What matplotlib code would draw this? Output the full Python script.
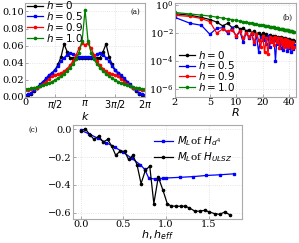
import numpy as np
import matplotlib
matplotlib.use("Agg")
import matplotlib.pyplot as plt
from matplotlib.ticker import FixedLocator, NullLocator, LogFormatterMathtext

# panel (a): occupation vs k, k = j*pi/20, j = 0..40
k_vals = np.arange(41) * np.pi / 20
nk_h0 = [0.001, 0.002, 0.004, 0.007, 0.011, 0.014, 0.018, 0.021, 0.025, 0.028,
         0.032, 0.038, 0.047, 0.062, 0.053, 0.046, 0.045, 0.045, 0.045, 0.045,
         0.045,
         0.045, 0.045, 0.045, 0.045, 0.046, 0.053, 0.062, 0.047, 0.038, 0.032,
         0.028, 0.025, 0.021, 0.018, 0.014, 0.011, 0.007, 0.004, 0.002, 0.001]
nk_h05 = [0.002, 0.003, 0.005, 0.008, 0.011, 0.015, 0.018, 0.022, 0.026, 0.028,
          0.031, 0.036, 0.042, 0.046, 0.049, 0.052, 0.050, 0.048, 0.047, 0.047,
          0.047,
          0.047, 0.047, 0.048, 0.050, 0.052, 0.049, 0.046, 0.042, 0.036, 0.031,
          0.028, 0.026, 0.022, 0.018, 0.015, 0.011, 0.008, 0.005, 0.003, 0.002]
nk_h09 = [0.008, 0.0085, 0.009, 0.010, 0.011, 0.013, 0.015, 0.018, 0.021, 0.024,
          0.026, 0.027, 0.028, 0.030, 0.033, 0.037, 0.042, 0.049, 0.057, 0.063,
          0.061,
          0.063, 0.057, 0.049, 0.042, 0.037, 0.033, 0.030, 0.028, 0.027, 0.026,
          0.024, 0.021, 0.018, 0.015, 0.013, 0.011, 0.010, 0.009, 0.0085, 0.008]
nk_h10 = [0.009, 0.0093, 0.010, 0.0107, 0.0115, 0.0125, 0.0135, 0.015, 0.0165, 0.018,
          0.020, 0.022, 0.0245, 0.027, 0.030, 0.034, 0.038, 0.044, 0.052, 0.065,
          0.102,
          0.065, 0.052, 0.044, 0.038, 0.034, 0.030, 0.027, 0.0245, 0.022, 0.020,
          0.018, 0.0165, 0.015, 0.0135, 0.0125, 0.0115, 0.0107, 0.010, 0.0093, 0.009]

# panel (b): correlation vs R
R_vals = list(range(2, 46))
cr_h0 = [0.22, 0.17, 0.12, 0.085, 0.055, 0.03, 0.045, 0.022, 0.03, 0.018,
         0.02, 0.013, 0.016, 0.01, 0.012, 0.008, 0.01, 0.006, 0.009, 0.005,
         0.008, 0.004, 0.007, 0.004, 0.006, 0.003, 0.0055, 0.003, 0.005, 0.0025,
         0.0045, 0.0025, 0.004, 0.002, 0.004, 0.002, 0.0035, 0.002, 0.0035, 0.0018,
         0.003, 0.0015, 0.003, 0.0025]
cr_h05 = [0.12, 0.045, 0.033, 0.0075, 0.02, 0.022, 0.009, 0.02, 0.005, 0.012,
          0.002, 0.01, 0.004, 0.008, 0.0015, 0.006, 0.0004, 0.005, 0.003, 0.004,
          0.0015, 0.006, 0.001, 0.004, 0.002, 0.003, 0.00009, 0.003, 0.0015, 0.004,
          0.0008, 0.003, 0.0006, 0.002, 0.0012, 0.0025, 0.0005, 0.002, 0.0008, 0.0015,
          0.0004, 0.0018, 0.0007, 0.0012]
cr_h09 = [0.17, 0.14, 0.1, 0.06, 0.009, 0.018, 0.012, 0.016, 0.006, 0.013,
          0.004, 0.01, 0.005, 0.009, 0.002, 0.008, 0.003, 0.001, 0.006, 0.0004,
          0.004, 0.0003, 0.005, 0.002, 0.004, 0.0012, 0.005, 0.002, 0.004, 0.0008,
          0.004, 0.0015, 0.003, 0.001, 0.0035, 0.0012, 0.003, 0.0009, 0.0025, 0.0012,
          0.002, 0.0008, 0.002, 0.001]
cr_h10 = [0.27, 0.21, 0.175, 0.15, 0.125, 0.108, 0.094, 0.083, 0.073, 0.066,
          0.06, 0.055, 0.05, 0.046, 0.043, 0.04, 0.037, 0.035, 0.033, 0.031,
          0.029, 0.028, 0.026, 0.025, 0.024, 0.023, 0.022, 0.021, 0.020, 0.019,
          0.018, 0.0175, 0.017, 0.016, 0.0155, 0.015, 0.0145, 0.014, 0.0135, 0.013,
          0.0125, 0.012, 0.0115, 0.011]

# panel (c): M_L
h_d4 = [0.0, 0.1, 0.2, 0.3, 0.4, 0.5, 0.6, 0.7, 0.75, 0.8, 0.87, 0.92, 0.96,
        1.0, 1.17, 1.32, 1.47, 1.63, 1.8]
ml_d4 = [-0.008, -0.035, -0.065, -0.097, -0.13, -0.165, -0.21, -0.255, -0.288,
         -0.352, -0.357, -0.355, -0.352, -0.35, -0.345, -0.34, -0.332, -0.327, -0.32]
h_ulsz = [0.0, 0.055, 0.107, 0.158, 0.212, 0.264, 0.316, 0.364, 0.412, 0.463,
          0.515, 0.562, 0.613, 0.661, 0.708, 0.759, 0.81, 0.858, 0.91, 0.965,
          1.015, 1.058, 1.115, 1.175, 1.225, 1.275, 1.335, 1.395, 1.455, 1.51,
          1.57, 1.63, 1.69, 1.745]
ml_ulsz = [-0.014, 0.002, -0.04, -0.074, -0.05, -0.093, -0.074, -0.121, -0.188, -0.157,
           -0.16, -0.217, -0.188, -0.255, -0.39, -0.295, -0.265, -0.533, -0.343, -0.438,
           -0.533, -0.55, -0.552, -0.552, -0.552, -0.564, -0.586, -0.588, -0.581, -0.593,
           -0.605, -0.61, -0.593, -0.612]

labels_h = [r'$h=0$', r'$h=0.5$', r'$h=0.9$', r'$h=1.0$']
cols = ['k', 'b', 'r', 'g']
marks = ['o', 's', 'o', 'o']

plt.rcParams['font.family'] = 'DejaVu Serif'
plt.rcParams['mathtext.fontset'] = 'dejavusans'


def style_ax(ax):
    for s in ax.spines.values():
        s.set_color('#aaaaaa')
        s.set_linewidth(0.8)
    ax.grid(True, color='#dddddd', linestyle=':', linewidth=0.6)
    ax.set_axisbelow(True)
    ax.tick_params(labelsize=7, length=2, width=0.5, color='#888888', pad=1,
                   direction='in')


fig = plt.figure(figsize=(2.99, 2.43), dpi=100)

# (a)
ax1 = fig.add_axes([0.084, 0.601, 0.401, 0.387])
for y, c, m, lab in zip([nk_h0, nk_h05, nk_h09, nk_h10], cols, marks, labels_h):
    ax1.plot(k_vals, y, color=c, marker=m, ms=1.6, lw=0.9, label=lab)
ax1.set_xlim(0, 2 * np.pi)
ax1.set_ylim(0, 0.11)
ax1.set_xticks([0, np.pi / 2, np.pi, 3 * np.pi / 2, 2 * np.pi])
ax1.set_xticklabels(['0', r'$\pi/2$', r'$\pi$', r'$3\pi/2$', r'$2\pi$'])
ax1.set_yticks([0, 0.02, 0.04, 0.06, 0.08, 0.10])
ax1.set_yticklabels(['0.00', '0.02', '0.04', '0.06', '0.08', '0.10'])
ax1.set_xlabel(r'$k$', fontsize=8, labelpad=-1)
style_ax(ax1)
ax1.legend(loc='upper left', bbox_to_anchor=(0.0, 1.06), fontsize=7.5, frameon=False,
           handlelength=1.5, handletextpad=0.3, labelspacing=-0.12,
           borderaxespad=0.1, borderpad=0.1)
ax1.text(0.96, 0.95, '(a)', transform=ax1.transAxes, fontsize=5, ha='right', va='top')

# (b)
ax2 = fig.add_axes([0.585, 0.601, 0.405, 0.387])
for y, c, m, lab in zip([cr_h0, cr_h05, cr_h09, cr_h10], cols, marks, labels_h):
    ax2.plot(R_vals, y, color=c, marker=m, ms=1.6, lw=0.9, label=lab)
ax2.set_xscale('log')
ax2.set_yscale('log')
ax2.set_xticks([2, 5, 10, 20, 40], labels=['2', '5', '10', '20', '40'])
ax2.xaxis.set_minor_locator(NullLocator())
ax2.yaxis.set_major_locator(FixedLocator([1e-6, 1e-4, 1e-2, 1e0]))
ax2.yaxis.set_major_formatter(LogFormatterMathtext())
ax2.yaxis.set_minor_locator(NullLocator())
ax2.set_xlim(2, 48)
ax2.set_ylim(2.5e-7, 1.3)
ax2.set_xlabel(r'$R$', fontsize=8, labelpad=-1)
style_ax(ax2)
ax2.legend(loc='lower left', fontsize=7.5, frameon=False, handlelength=1.5,
           handletextpad=0.3, labelspacing=-0.12, borderaxespad=0.3, borderpad=0.1)
ax2.text(0.97, 0.88, '(b)', transform=ax2.transAxes, fontsize=5, ha='right', va='top')

# (c)
ax3 = fig.add_axes([0.244, 0.099, 0.565, 0.387])
ax3.plot(h_d4, ml_d4, color='b', marker='s', ms=1.6, lw=0.9,
         label=r'$M_L$of $H_{d^4}$')
ax3.plot(h_ulsz, ml_ulsz, color='k', marker='o', ms=1.6, lw=0.9,
         label=r'$M_L$of $H_{ULSZ}$')
ax3.set_xlim(-0.09, 1.89)
ax3.set_ylim(-0.643, 0.03)
ax3.set_xticks([0, 0.5, 1.0, 1.5])
ax3.set_yticks([0, -0.2, -0.4, -0.6])
ax3.set_yticklabels(['0.0', '\u22120.2', '\u22120.4', '\u22120.6'])
ax3.set_xlabel(r'$h, h_{eff}$', fontsize=8, labelpad=-1)
style_ax(ax3)
ax3.legend(loc='upper right', fontsize=7.5, frameon=False, handlelength=1.8,
           handletextpad=0.4, labelspacing=0.25, borderaxespad=0.5)
fig.text(33 / 299, 1 - 130 / 243, '(c)', fontsize=5, ha='center', va='center')

fig.savefig('out.png', dpi=100)
